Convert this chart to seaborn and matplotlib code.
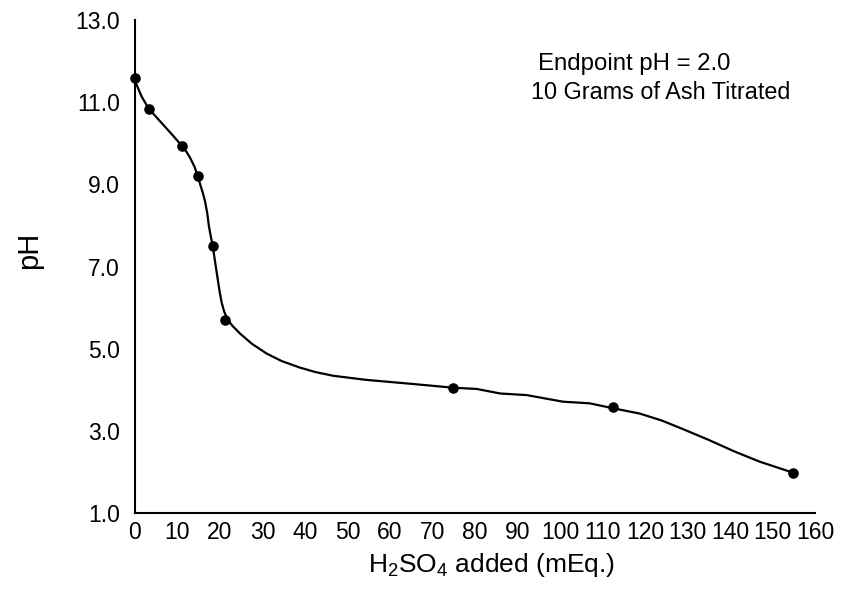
import matplotlib
matplotlib.use("Agg")
import matplotlib.pyplot as plt
import seaborn as sns
import pandas as pd

# Measured titration points
acid_meq = [0, 3.3, 11.1, 14.8, 18.3, 21.2, 74.9, 112.5, 154.9]
ph_values = [11.59, 10.83, 9.93, 9.2, 7.5, 5.7, 4.05, 3.57, 1.98]

# Hand-drawn fitted curve
curve_x = [0, 1.5, 3.3, 5, 7, 9, 11.1, 12.2, 13, 14, 14.8, 15.4, 16, 16.5, 17.0,
           17.4, 17.9, 18.3, 18.8, 19.4, 19.9, 20.4, 21.0, 21.6, 22.3, 23, 24.7,
           27.5, 31, 34.5, 38.8, 42.5, 46.7, 54.5, 65.5, 74.9, 80.4, 85.9,
           92.2, 100.7, 107, 112.5, 118.8, 124, 129, 135, 140.8, 147, 154.9]
curve_y = [11.52, 11.15, 10.83, 10.64, 10.41, 10.18, 9.93, 9.78, 9.64, 9.43, 9.2,
           8.98, 8.78, 8.58, 8.3, 7.98, 7.7, 7.5, 7.15, 6.74, 6.4, 6.12, 5.9,
           5.76, 5.64, 5.55, 5.37, 5.12, 4.88, 4.7, 4.54, 4.43, 4.34, 4.24, 4.14,
           4.05, 4.02, 3.91, 3.87, 3.71, 3.67, 3.55, 3.42, 3.25, 3.04, 2.78,
           2.51, 2.25, 1.98]

x_ticks = list(range(0, 161, 10))
y_ticks = [1.0, 3.0, 5.0, 7.0, 9.0, 11.0, 13.0]

sns.set_theme(style="white")
plt.rcParams["font.family"] = ["Liberation Sans", "DejaVu Sans"]
plt.rcParams["mathtext.fontset"] = "custom"
plt.rcParams["mathtext.rm"] = "Liberation Sans"
plt.rcParams["mathtext.it"] = "Liberation Sans:italic"
plt.rcParams["text.color"] = "black"

fig = plt.figure(figsize=(8.41, 5.89), dpi=100)
ax = fig.add_axes([0.1605, 0.129, 0.969 - 0.1605, 0.966 - 0.129])

curve = pd.DataFrame({"x": curve_x, "y": curve_y})
pts = pd.DataFrame({"x": acid_meq, "y": ph_values})

sns.lineplot(data=curve, x="x", y="y", ax=ax, color="black", linewidth=1.6,
             sort=False, estimator=None)
sns.scatterplot(data=pts, x="x", y="y", ax=ax, color="black", s=58,
                edgecolor="black", linewidth=0, zorder=3, clip_on=False)

ax.set_xlim(0, 160)
ax.set_ylim(1.0, 13.0)
ax.set_xticks(x_ticks)
ax.set_xticklabels([str(v) for v in x_ticks])
ax.set_yticks(y_ticks)
ax.set_yticklabels([f"{v:.1f}" for v in y_ticks])

for s in ["top", "right"]:
    ax.spines[s].set_visible(False)
for s in ["left", "bottom"]:
    ax.spines[s].set_color("black")
    ax.spines[s].set_linewidth(1.5)

ax.tick_params(axis="both", direction="in", length=3, width=0.6, color="#999999",
               labelsize=16.5, labelcolor="black")
ax.tick_params(axis="y", pad=11)
ax.tick_params(axis="x", pad=6)

ax.set_xlabel("")
ax.set_ylabel("")
fig.text(0.585, 0.04, r"H$_2$SO$_4$ added (mEq.)", ha="center", va="center",
         fontsize=19, color="black")
fig.text(0.034, 0.575, "pH", ha="center", va="center", rotation=90, fontsize=21,
         color="black")

ax.text(0.735, 0.91, "Endpoint pH = 2.0", transform=ax.transAxes, ha="center",
        va="center", fontsize=17.3, color="black")
ax.text(0.7725, 0.853, "10 Grams of Ash Titrated", transform=ax.transAxes,
        ha="center", va="center", fontsize=16.8, color="black")

fig.savefig("out.png", dpi=100)
